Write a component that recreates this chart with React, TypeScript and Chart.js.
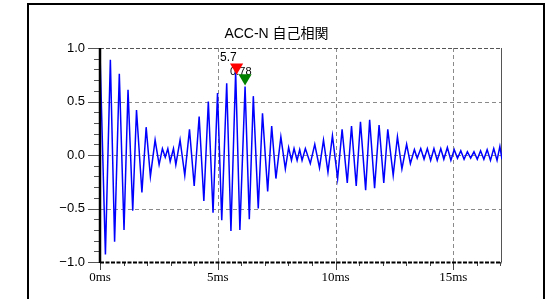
import React, { useEffect, useRef } from "react";
import { Chart, registerables } from "chart.js";

Chart.register(...registerables);

const TITLE = "ACC-N 自己相関";

// lag (ms) of each read peak / trough of the autocorrelation curve
const lagMs = [
  0, 0.23, 0.44, 0.62, 0.82, 1.02, 1.19, 1.39, 1.55, 1.78,
  1.96, 2.14, 2.34, 2.51, 2.65, 2.77, 2.88, 2.98, 3.12, 3.22,
  3.40, 3.60, 3.80, 4.00, 4.21, 4.41, 4.60, 4.80, 4.99, 5.17,
  5.38, 5.56, 5.76, 5.94, 6.16, 6.34, 6.51, 6.72, 6.90, 7.12,
  7.29, 7.47, 7.68, 7.87, 8.01, 8.13, 8.24, 8.37, 8.48, 8.58,
  8.72, 8.93, 9.12, 9.32, 9.49, 9.68, 9.87, 10.09, 10.28, 10.50,
  10.68, 10.88, 11.06, 11.28, 11.45, 11.66, 11.85, 12.05, 12.22, 12.45,
  12.63, 12.82, 13.02, 13.18, 13.35, 13.47, 13.62, 13.76, 13.90, 14.04,
  14.18, 14.32, 14.47, 14.60, 14.75, 14.90, 15.04, 15.18, 15.32, 15.46,
  15.60, 15.74, 15.88, 16.02, 16.16, 16.30, 16.44, 16.58, 16.72, 16.86,
  16.98, 17.07,
];

const acfValues = [
  0.95, -0.93, 0.89, -0.81, 0.76, -0.70, 0.61, -0.52, 0.42, -0.35,
  0.26, -0.20, 0.14, -0.09, 0.06, -0.02, 0.06, -0.06, 0.06, -0.09,
  0.14, -0.19, 0.24, -0.29, 0.36, -0.43, 0.50, -0.54, 0.58, -0.61,
  0.67, -0.71, 0.78, -0.70, 0.64, -0.60, 0.55, -0.50, 0.39, -0.34,
  0.27, -0.22, 0.17, -0.13, 0.07, -0.05, 0.06, -0.05, 0.05, -0.05,
  0.06, -0.08, 0.10, -0.12, 0.14, -0.16, 0.18, -0.22, 0.24, -0.26,
  0.27, -0.29, 0.31, -0.33, 0.33, -0.31, 0.28, -0.26, 0.24, -0.19,
  0.17, -0.13, 0.10, -0.08, 0.05, -0.03, 0.06, -0.04, 0.06, -0.05,
  0.06, -0.05, 0.06, -0.04, 0.07, -0.05, 0.05, -0.03, 0.04, -0.04,
  0.03, -0.03, 0.03, -0.04, 0.04, -0.04, 0.05, -0.05, 0.06, -0.05,
  0.08, -0.04,
];

const X_MIN = 0;
const X_MAX = 17.07;
const Y_MIN = -1;
const Y_MAX = 1;

const xTickValues = [0, 5, 10, 15];
const xTickLabels = ["0ms", "5ms", "10ms", "15ms"];
const xMinorStep = 1;
const yTickValues = [1, 0.5, 0, -0.5, -1];
const yTickLabels = ["1.0", "0.5", "0.0", "−0.5", "−1.0"];
const yMinorStep = 0.1;

const markerLag = [5.8, 6.16];
const markerValue = [0.82, 0.72];
const markerColors = ["#ff0000", "#008000"];
const markerLagText = "5.7";
const markerValueText = "0.78";

function line(ctx: CanvasRenderingContext2D, x1: number, y1: number, x2: number, y2: number, color: string, width: number, dash: number[]) {
  ctx.save();
  ctx.strokeStyle = color;
  ctx.lineWidth = width;
  ctx.setLineDash(dash);
  ctx.beginPath();
  ctx.moveTo(x1, y1);
  ctx.lineTo(x2, y2);
  ctx.stroke();
  ctx.restore();
}

const decorPlugin = {
  id: "decor",
  beforeDraw(chart: any) {
    const ctx = chart.ctx as CanvasRenderingContext2D;
    ctx.save();
    ctx.fillStyle = "#ffffff";
    ctx.fillRect(0, 0, chart.width, chart.height);
    ctx.strokeStyle = "#000000";
    ctx.lineWidth = 2;
    ctx.strokeRect(28, 4, 516, 320);
    ctx.fillStyle = "#000000";
    ctx.font = '14px "Liberation Sans", "Noto Sans CJK JP", sans-serif';
    ctx.textAlign = "center";
    ctx.textBaseline = "alphabetic";
    ctx.fillText(TITLE, chart.width / 2, 38);
    ctx.restore();
  },
  beforeDatasetsDraw(chart: any) {
    const ctx = chart.ctx as CanvasRenderingContext2D;
    const { left, right, top, bottom } = chart.chartArea;
    const xs = chart.scales.x;
    const ys = chart.scales.y;
    const grid = "#8a8a8a";
    xTickValues.forEach((v) => {
      if (v === X_MIN) return;
      const px = Math.round(xs.getPixelForValue(v)) + 0.5;
      line(ctx, px, top, px, bottom, grid, 1, [4, 3]);
    });
    yTickValues.forEach((v) => {
      if (v === Y_MIN || v === Y_MAX) return;
      const py = Math.round(ys.getPixelForValue(v)) + 0.5;
      line(ctx, left, py, right, py, grid, 1, [4, 3]);
    });
    line(ctx, left, Math.round(top) + 0.5, right, Math.round(top) + 0.5, "#555555", 1, [4, 2]);
    line(ctx, Math.round(right) - 0.5, top, Math.round(right) - 0.5, bottom, "#555555", 1, []);
    for (let i = 0; i <= Math.round((Y_MAX - Y_MIN) / yMinorStep); i++) {
      const v = Y_MIN + i * yMinorStep;
      const py = Math.round(ys.getPixelForValue(v)) + 0.5;
      const major = Math.abs(v * 2 - Math.round(v * 2)) < 1e-6;
      line(ctx, left - (major ? 12 : 6), py, left, py, "#555555", 1, []);
    }
    for (let v = X_MIN; v <= X_MAX + 1e-6; v += xMinorStep) {
      const px = Math.round(xs.getPixelForValue(v)) + 0.5;
      const major = v % 5 === 0;
      line(ctx, px, bottom, px, bottom + (major ? 8 : 4), "#444444", 1, []);
    }
    // marker value text (mostly hidden under the markers)
    ctx.save();
    ctx.fillStyle = "#000000";
    ctx.font = '11px "Liberation Sans", sans-serif';
    ctx.textAlign = "left";
    ctx.textBaseline = "alphabetic";
    const mx = xs.getPixelForValue(markerLag[0]);
    const my = ys.getPixelForValue(markerValue[0]);
    ctx.fillText(markerValueText, mx - 6.5, my + 8);
    ctx.restore();
  },
  afterDatasetsDraw(chart: any) {
    const ctx = chart.ctx as CanvasRenderingContext2D;
    const { left, right, top, bottom } = chart.chartArea;
    const xs = chart.scales.x;
    const ys = chart.scales.y;
    line(ctx, left, top, left, bottom + 1, "#000000", 2.5, []);
    line(ctx, left, bottom + 0.5, right, bottom + 0.5, "#000000", 2, [4, 1.5]);
    ctx.save();
    ctx.fillStyle = "#000000";
    ctx.font = '12px "Liberation Sans", sans-serif';
    ctx.textAlign = "left";
    ctx.textBaseline = "alphabetic";
    const mx = xs.getPixelForValue(markerLag[0]);
    const my = ys.getPixelForValue(markerValue[0]);
    ctx.fillText(markerLagText, mx - 16.5, my - 6);
    ctx.restore();
  },
};

export default function App() {
  const ref = useRef<HTMLCanvasElement | null>(null);
  useEffect(() => {
    if (!ref.current) return;
    const series = lagMs.map((x, i) => ({ x, y: acfValues[i] }));
    const markers = markerLag.map((x, i) => ({ x, y: markerValue[i] }));
    const chart = new Chart(ref.current, {
      type: "line",
      data: {
        datasets: [
          {
            data: markers,
            showLine: false,
            pointStyle: "triangle",
            rotation: 180,
            pointRadius: 7.6,
            pointBackgroundColor: markerColors,
            pointBorderColor: markerColors,
            pointBorderWidth: 0,
            order: 0,
          } as any,
          {
            data: series,
            borderColor: "#0000ff",
            borderWidth: 1.5,
            pointRadius: 0,
            tension: 0,
            fill: false,
            order: 1,
          },
        ],
      },
      plugins: [decorPlugin],
      options: {
        responsive: false,
        animation: false,
        devicePixelRatio: 1,
        events: [],
        layout: { padding: { left: 40, right: 51, top: 48, bottom: 7 } },
        plugins: {
          legend: { display: false },
          title: { display: false },
          tooltip: { enabled: false },
        },
        scales: {
          x: {
            type: "linear",
            min: X_MIN,
            max: X_MAX,
            grid: { display: false, drawTicks: false },
            border: { display: false },
            afterBuildTicks: (s: any) => {
              s.ticks = xTickValues.map((value) => ({ value }));
            },
            afterFit: (s: any) => {
              s.height = 30;
            },
            ticks: {
              autoSkip: false,
              maxRotation: 0,
              padding: 8,
              color: "#000000",
              font: { family: '"Liberation Serif", serif', size: 13 },
              callback: (v: any) => xTickLabels[xTickValues.indexOf(Number(v))] ?? "",
            },
          },
          y: {
            type: "linear",
            min: Y_MIN,
            max: Y_MAX,
            grid: { display: false, drawTicks: false },
            border: { display: false },
            afterBuildTicks: (s: any) => {
              s.ticks = yTickValues.map((value) => ({ value }));
            },
            afterFit: (s: any) => {
              s.width = 60;
            },
            ticks: {
              autoSkip: false,
              padding: 15,
              color: "#000000",
              font: { family: '"Liberation Sans", Arial, sans-serif', size: 13 },
              callback: (v: any) => yTickLabels[yTickValues.indexOf(Number(v))] ?? "",
            },
          },
        },
      },
    });
    return () => chart.destroy();
  }, []);
  return (
    <div style={{ position: "fixed", left: 0, top: 0, width: 553, height: 299, background: "#ffffff" }}>
      <canvas ref={ref} width={553} height={299} style={{ display: "block", width: 553, height: 299 }} />
    </div>
  );
}
